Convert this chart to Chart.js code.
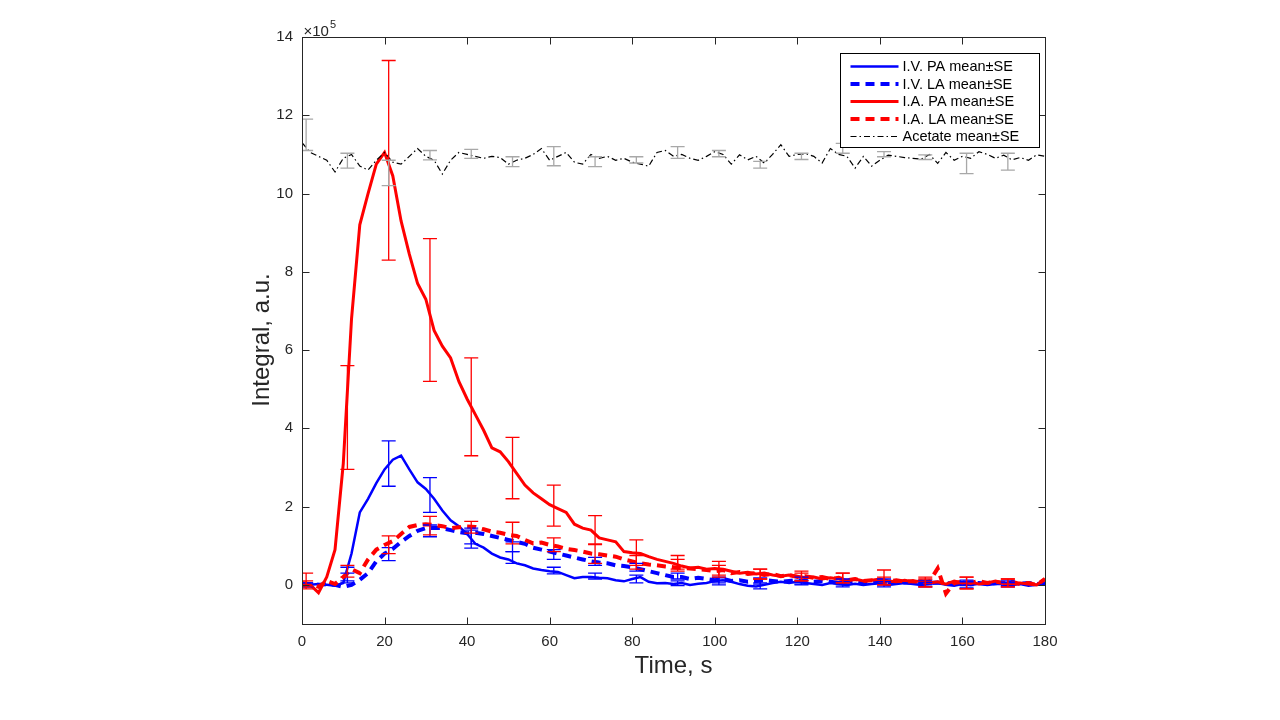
<!DOCTYPE html>
<html>
<head>
<meta charset="utf-8">
<title>Integral vs time</title>
<script src="https://cdn.jsdelivr.net/npm/chart.js@4.4.1/dist/chart.umd.min.js"></script>
<style>
  body { margin: 0; background: #fff; }
  canvas { display: block; }
</style>
</head>
<body>
<canvas id="integralChart" width="1280" height="720"></canvas>
<script>
// Time samples (s)
const time = [
  0, 2, 4, 6, 8, 10, 12, 14, 16, 18,
  20, 22, 24, 26, 28, 30, 32, 34, 36, 38,
  40, 42, 44, 46, 48, 50, 52, 54, 56, 58,
  60, 62, 64, 66, 68, 70, 72, 74, 76, 78,
  80, 82, 84, 86, 88, 90, 92, 94, 96, 98,
  100, 102, 104, 106, 108, 110, 112, 114, 116, 118,
  120, 122, 124, 126, 128, 130, 132, 134, 136, 138,
  140, 142, 144, 146, 148, 150, 152, 154, 156, 158,
  160, 162, 164, 166, 168, 170, 172, 174, 176, 178,
  180
];

// Mean integrals, in units of 1e5
const ivPA = [
  0.0, 0.0, 0.02, 0.0, -0.02, 0.05, 0.8, 1.85, 2.2, 2.6,
  2.95, 3.2, 3.3, 2.95, 2.62, 2.45, 2.2, 1.9, 1.65, 1.5,
  1.3, 1.05, 0.95, 0.8, 0.7, 0.65, 0.55, 0.5, 0.42, 0.38,
  0.35, 0.33, 0.25, 0.17, 0.2, 0.2, 0.18, 0.17, 0.12, 0.09,
  0.15, 0.2, 0.08, 0.04, 0.05, 0.02, 0.05, 0.0, 0.03, 0.05,
  0.1, 0.12, 0.08, 0.02, -0.02, -0.04, 0.0, 0.05, 0.08, 0.05,
  0.08, 0.05, 0.02, 0.0, 0.05, 0.02, 0.0, 0.03, 0.0, 0.02,
  0.04, 0.0, 0.02, 0.05, 0.02, 0.0, 0.03, 0.05, 0.0, -0.02,
  0.02, 0.0, 0.03, 0.0, 0.02, 0.05, 0.0, 0.02, -0.02, 0.0,
  0.05
];
const ivLA = [
  0.0, 0.0, 0.0, 0.02, 0.0, -0.05, 0.0, 0.13, 0.3, 0.6,
  0.8, 0.92, 1.1, 1.25, 1.38, 1.45, 1.45, 1.45, 1.4, 1.35,
  1.32, 1.33, 1.3, 1.25, 1.2, 1.15, 1.1, 1.05, 0.95, 0.9,
  0.85, 0.8, 0.75, 0.7, 0.65, 0.6, 0.57, 0.55, 0.5, 0.48,
  0.45, 0.4, 0.35, 0.3, 0.25, 0.2, 0.2, 0.15, 0.18, 0.15,
  0.12, 0.15, 0.1, 0.12, 0.08, 0.1, 0.12, 0.1, 0.08, 0.1,
  0.12, 0.1, 0.08, 0.1, 0.08, 0.05, 0.08, 0.1, 0.06, 0.05,
  0.08, 0.05, 0.08, 0.06, 0.05, 0.08, 0.05, 0.06, 0.04, 0.05,
  0.06, 0.04, 0.05, 0.03, 0.05, 0.04, 0.06, 0.03, 0.05, 0.02,
  0.05
];
const iaPA = [
  0.05, 0.0, -0.2, 0.2, 0.9, 3.1, 6.8, 9.2, 10.0, 10.75,
  11.05, 10.45, 9.3, 8.45, 7.7, 7.3, 6.5, 6.1, 5.8, 5.2,
  4.75, 4.35, 3.95, 3.5, 3.4, 3.15, 2.85, 2.55, 2.35, 2.2,
  2.05, 1.95, 1.85, 1.55, 1.45, 1.4, 1.2, 1.15, 1.1, 0.85,
  0.82, 0.8, 0.72, 0.65, 0.6, 0.55, 0.48, 0.43, 0.45, 0.4,
  0.42, 0.4, 0.35, 0.3, 0.32, 0.28, 0.3, 0.25, 0.22, 0.25,
  0.22, 0.18, 0.2, 0.15, 0.18, 0.15, 0.12, 0.15, 0.1, 0.12,
  0.15, 0.1, 0.08, 0.12, 0.08, 0.1, 0.05, 0.08, 0.02, 0.1,
  0.05, 0.08, 0.02, 0.05, 0.1, 0.05, 0.0, 0.05, 0.02, 0.0,
  0.15
];
const iaLA = [
  0.05, 0.02, -0.05, 0.1, 0.02, 0.2, 0.4, 0.3, 0.65, 0.9,
  1.02, 1.12, 1.3, 1.48, 1.53, 1.55, 1.53, 1.5, 1.45, 1.47,
  1.49, 1.48, 1.42, 1.36, 1.33, 1.28, 1.25, 1.15, 1.06, 1.08,
  1.02, 0.98, 0.92, 0.89, 0.85, 0.8, 0.78, 0.75, 0.72, 0.65,
  0.6, 0.55, 0.52, 0.5, 0.47, 0.45, 0.43, 0.42, 0.4, 0.38,
  0.35, 0.38, 0.3, 0.33, 0.28, 0.3, 0.25, 0.28, 0.22, 0.25,
  0.2, 0.22, 0.18, 0.2, 0.15, 0.18, 0.12, 0.15, 0.1, 0.12,
  0.1, 0.08, 0.12, 0.08, 0.1, 0.05, 0.08, 0.42, -0.22, 0.05,
  0.08, 0.05, 0.1, 0.05, 0.08, 0.05, 0.08, 0.02, 0.05, 0.0,
  0.15
];
const acetate = [
  11.3, 11.05, 10.95, 10.85, 10.55, 10.9, 11.0, 10.7, 10.6, 10.85,
  11.05, 10.8, 10.75, 10.95, 11.15, 10.95, 10.85, 10.5, 10.85, 11.05,
  11.0, 10.95, 10.9, 10.95, 10.92, 10.75, 10.85, 10.9, 11.0, 11.15,
  10.85, 10.95, 11.05, 10.8, 10.75, 11.0, 10.9, 10.95, 10.85, 10.9,
  10.8, 10.75, 10.7, 11.05, 11.1, 10.95, 11.0, 10.9, 10.85, 10.95,
  11.07, 11.0, 10.75, 10.99, 10.86, 10.95, 10.78, 11.0, 11.25, 10.95,
  11.0, 11.02, 10.95, 10.78, 11.15, 11.0, 10.95, 10.65, 10.95, 10.7,
  10.85, 10.98, 10.95, 10.92, 10.9, 10.88, 11.0, 10.77, 11.05, 10.85,
  10.95, 10.9, 11.07, 11.0, 10.9, 10.98, 10.86, 10.92, 10.85, 10.99,
  10.95
];

// Error bars (mean ± SE), sampled every 10 s
const errTime = [1, 11, 21, 31, 41, 51, 61, 71, 81, 91, 101, 111, 121, 131, 141, 151, 161, 171];
const ivPALo = [-0.05, 0.05, 2.52, 1.85, 0.94, 0.55, 0.28, 0.15, 0.05, -0.02, 0.0, -0.1, 0.0, -0.05, -0.05, -0.05, -0.08, -0.05];
const ivPAHi = [0.05, 0.45, 3.68, 2.74, 1.4, 0.85, 0.45, 0.3, 0.25, 0.1, 0.18, 0.05, 0.12, 0.08, 0.08, 0.06, 0.08, 0.06];
const ivLALo = [-0.05, 0.1, 0.62, 1.23, 1.05, 0.85, 0.65, 0.5, 0.35, 0.15, 0.05, 0.02, 0.02, 0.0, 0.0, 0.0, -0.02, -0.02];
const ivLAHi = [0.05, 0.3, 0.95, 1.53, 1.45, 1.1, 0.9, 0.7, 0.55, 0.3, 0.2, 0.18, 0.2, 0.15, 0.15, 0.12, 0.12, 0.1];
const iaPALo = [-0.1, 2.95, 8.3, 5.2, 3.3, 2.2, 1.5, 1.03, 0.5, 0.4, 0.25, 0.15, 0.1, 0.05, 0.0, -0.05, -0.1, -0.05];
const iaPAHi = [0.3, 5.6, 13.4, 8.85, 5.8, 3.77, 2.55, 1.77, 1.15, 0.75, 0.6, 0.4, 0.35, 0.3, 0.38, 0.2, 0.2, 0.15];
const iaLALo = [-0.05, 0.2, 0.8, 1.28, 1.32, 1.05, 0.85, 0.55, 0.4, 0.35, 0.2, 0.15, 0.1, 0.05, 0.0, -0.05, -0.1, -0.05];
const iaLAHi = [0.1, 0.5, 1.25, 1.75, 1.62, 1.6, 1.2, 1.05, 0.75, 0.65, 0.5, 0.4, 0.3, 0.3, 0.2, 0.15, 0.2, 0.15];
const acetateLo = [11.1, 10.65, 10.2, 10.86, 10.9, 10.69, 10.71, 10.69, 10.78, 10.9, 10.94, 10.65, 10.87, 11.03, 10.94, 10.87, 10.51, 10.6];
const acetateHi = [11.9, 11.03, 10.85, 11.1, 11.13, 10.94, 11.2, 10.94, 10.94, 11.2, 11.1, 10.82, 11.03, 11.28, 11.07, 10.99, 11.03, 11.03];

// Axis ticks
const xTicks = [0, 20, 40, 60, 80, 100, 120, 140, 160, 180];
const yTicks = [0, 2, 4, 6, 8, 10, 12, 14];

const FONT = '"Liberation Sans", Arial, Helvetica, sans-serif';
const AXIS_COLOR = '#262626';

function points(values) {
  return time.map((t, i) => ({ x: t, y: values[i] }));
}

function series(label, values, color, width, dash, lo, hi, barColor, order) {
  return {
    label: label,
    data: points(values),
    borderColor: color,
    backgroundColor: color,
    borderWidth: width,
    borderDash: dash,
    pointRadius: 0,
    tension: 0,
    fill: false,
    order: order,
    errLo: lo,
    errHi: hi,
    errColor: barColor
  };
}

// Draws error bars, the box with inward ticks, the legend and the extra labels
const matlabFrame = {
  id: 'matlabFrame',
  afterDatasetsDraw(chart) {
    const ctx = chart.ctx;
    const area = chart.chartArea;
    const xs = chart.scales.x;
    const ys = chart.scales.y;

    // error bars
    ctx.save();
    ctx.beginPath();
    ctx.rect(area.left, area.top, area.right - area.left, area.bottom - area.top);
    ctx.clip();
    chart.data.datasets.forEach(ds => {
      ctx.strokeStyle = ds.errColor;
      ctx.lineWidth = 1.3;
      ctx.setLineDash([]);
      errTime.forEach((t, i) => {
        const px = xs.getPixelForValue(t);
        const yl = ys.getPixelForValue(ds.errLo[i]);
        const yh = ys.getPixelForValue(ds.errHi[i]);
        ctx.beginPath();
        ctx.moveTo(px, yl); ctx.lineTo(px, yh);
        ctx.moveTo(px - 7, yl); ctx.lineTo(px + 7, yl);
        ctx.moveTo(px - 7, yh); ctx.lineTo(px + 7, yh);
        ctx.stroke();
      });
    });
    ctx.restore();

    // box and inward ticks
    ctx.save();
    ctx.strokeStyle = AXIS_COLOR;
    ctx.lineWidth = 1;
    ctx.setLineDash([]);
    const L = Math.round(area.left) + 0.5, R = Math.round(area.right) + 0.5;
    const T = Math.round(area.top) + 0.5, B = Math.round(area.bottom) + 0.5;
    ctx.strokeRect(L, T, R - L, B - T);
    ctx.beginPath();
    xTicks.forEach(v => {
      const px = Math.round(xs.getPixelForValue(v)) + 0.5;
      ctx.moveTo(px, B); ctx.lineTo(px, B - 7);
      ctx.moveTo(px, T); ctx.lineTo(px, T + 7);
    });
    yTicks.forEach(v => {
      const py = Math.round(ys.getPixelForValue(v)) + 0.5;
      ctx.moveTo(L, py); ctx.lineTo(L + 7, py);
      ctx.moveTo(R, py); ctx.lineTo(R - 7, py);
    });
    ctx.stroke();

    // exponent label
    ctx.fillStyle = AXIS_COLOR;
    ctx.textAlign = 'left';
    ctx.textBaseline = 'alphabetic';
    ctx.font = '15px ' + FONT;
    ctx.fillText('\u00d710', L + 1, T - 2);
    const w = ctx.measureText('\u00d710').width;
    ctx.font = '11px ' + FONT;
    ctx.fillText('5', L + 1 + w + 1, T - 10);

    // y axis title
    ctx.save();
    ctx.translate(262, 340);
    ctx.rotate(-Math.PI / 2);
    ctx.font = '24px ' + FONT;
    ctx.textAlign = 'center';
    ctx.textBaseline = 'middle';
    ctx.fillText('Integral, a.u.', 0, 0);
    ctx.restore();

    // legend
    const bx = 840.5, by = 53.5, bw = 199, bh = 94;
    ctx.fillStyle = '#fff';
    ctx.fillRect(bx, by, bw, bh);
    ctx.strokeStyle = '#000';
    ctx.strokeRect(bx, by, bw, bh);
    ctx.font = '14.5px ' + FONT;
    ctx.textBaseline = 'middle';
    chart.data.datasets.forEach((ds, i) => {
      const ry = by + 13 + i * 17.5;
      ctx.strokeStyle = ds.borderColor;
      ctx.lineWidth = ds.borderWidth;
      ctx.setLineDash(ds.borderDash);
      ctx.beginPath();
      ctx.moveTo(bx + 10, ry); ctx.lineTo(bx + 58, ry);
      ctx.stroke();
      ctx.fillStyle = '#000';
      ctx.fillText(ds.label, bx + 62, ry + 0.5);
    });
    ctx.restore();
  }
};

const ctx = document.getElementById('integralChart');

const chart = new Chart(ctx, {
  type: 'line',
  data: {
    datasets: [
      series('I.V. PA mean\u00b1SE', ivPA, '#0000ff', 2.5, [], ivPALo, ivPAHi, '#0000ff', 5),
      series('I.V. LA mean\u00b1SE', ivLA, '#0000ff', 4, [9, 6], ivLALo, ivLAHi, '#0000ff', 4),
      series('I.A. PA mean\u00b1SE', iaPA, '#ff0000', 3, [], iaPALo, iaPAHi, '#ff0000', 3),
      series('I.A. LA mean\u00b1SE', iaLA, '#ff0000', 4, [9, 6], iaLALo, iaLAHi, '#ff0000', 2),
      series('Acetate mean\u00b1SE', acetate, '#000000', 1.2, [6, 3, 1.5, 3], acetateLo, acetateHi, '#a8a8a8', 1)
    ]
  },
  options: {
    responsive: false,
    animation: false,
    layout: { padding: { left: 240, top: 37, right: 235, bottom: 37 } },
    plugins: {
      legend: { display: false },
      tooltip: { enabled: false }
    },
    scales: {
      x: {
        type: 'linear',
        min: 0,
        max: 180,
        afterBuildTicks: s => { s.ticks = xTicks.map(v => ({ value: v })); },
        afterFit: s => { s.height = 59; },
        grid: { display: false, drawTicks: false },
        border: { display: false },
        ticks: { color: AXIS_COLOR, padding: 9, maxRotation: 0, font: { family: FONT, size: 15 } },
        title: {
          display: true,
          text: 'Time, s',
          color: AXIS_COLOR,
          padding: { top: 4, bottom: 2 },
          font: { family: FONT, size: 24 }
        }
      },
      y: {
        type: 'linear',
        min: -1,
        max: 14,
        afterBuildTicks: s => { s.ticks = yTicks.map(v => ({ value: v })); },
        afterFit: s => { s.width = 62; },
        grid: { display: false, drawTicks: false },
        border: { display: false },
        ticks: { color: AXIS_COLOR, padding: 9, font: { family: FONT, size: 15 } },
        title: { display: false }
      }
    }
  },
  plugins: [matlabFrame]
});
</script>
</body>
</html>
